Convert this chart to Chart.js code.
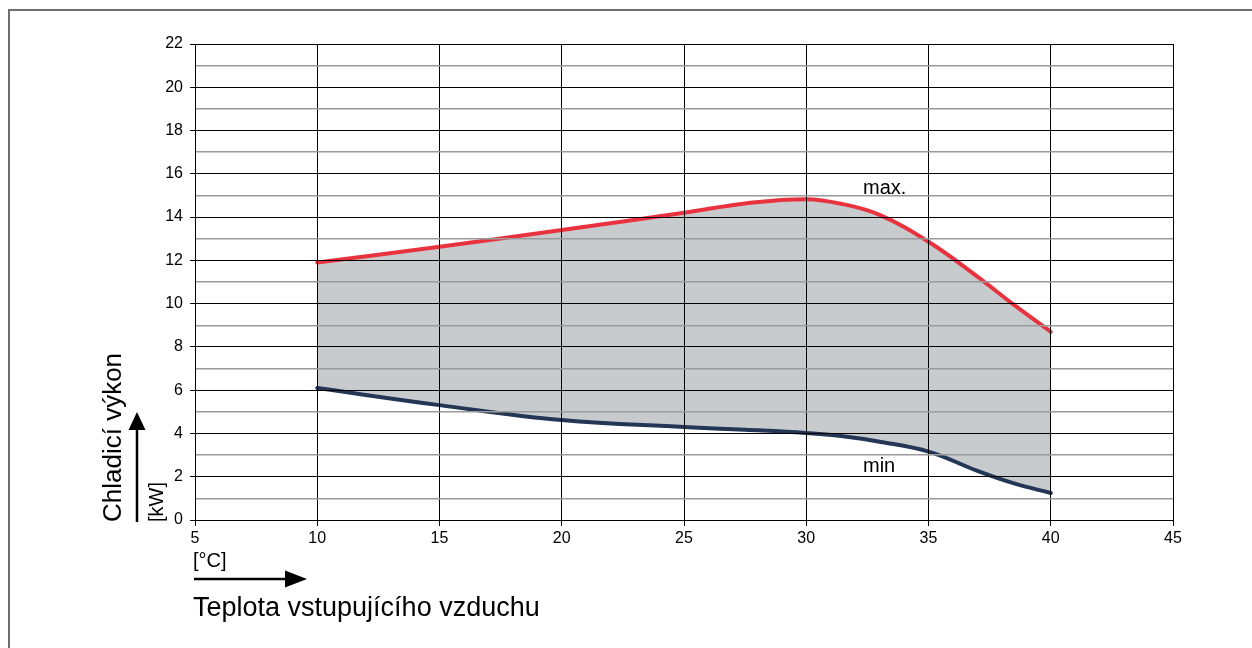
<!DOCTYPE html>
<html lang="cs">
<head>
<meta charset="utf-8">
<title>Chladicí výkon</title>
<script src="https://cdn.jsdelivr.net/npm/chart.js@4.4.1/dist/chart.umd.min.js"></script>
<style>
    html, body { margin: 0; padding: 0; background: #fff; }
    #wrap { width: 1252px; height: 648px; position: relative; }
</style>
</head>
<body>
<div id="wrap"><canvas id="coolingChart" width="1252" height="648"></canvas></div>
<script>
    "use strict";

    // teplota vstupujícího vzduchu [°C]
    const airTemps = [10, 15, 20, 25, 27.5, 30, 31.5, 33, 35, 37, 38.5, 40];
    // chladicí výkon [kW] - horní a dolní mez
    const capacityMax = [11.9, 12.63, 13.4, 14.2, 14.63, 14.83, 14.6, 14.1, 12.86, 11.25, 9.94, 8.7];
    const capacityMin = [6.1, 5.31, 4.62, 4.3, 4.17, 4.02, 3.87, 3.62, 3.16, 2.27, 1.69, 1.25];

    const xTicks = [5, 10, 15, 20, 25, 30, 35, 40, 45];
    const yLabelTicks = [0, 2, 4, 6, 8, 10, 12, 14, 16, 18, 20, 22];

    const yTitle = "Chladicí výkon";
    const yUnit = "[kW]";
    const xTitle = "Teplota vstupujícího vzduchu";
    const xUnit = "[°C]";
    const maxLabel = "max.";
    const minLabel = "min";

    const FONT = "'Liberation Sans', Arial, sans-serif";

    function toPoints(xs, ys) {
        return xs.map((x, i) => ({ x: x, y: ys[i] }));
    }

    /** jednoduchá šipka s plným hrotem */
    function arrow(ctx, x1, y1, x2, y2, head, halfW) {
        const ang = Math.atan2(y2 - y1, x2 - x1);
        const bx = x2 - Math.cos(ang) * head;
        const by = y2 - Math.sin(ang) * head;
        ctx.beginPath();
        ctx.moveTo(x1, y1);
        ctx.lineTo(bx, by);
        ctx.stroke();
        ctx.beginPath();
        ctx.moveTo(x2, y2);
        ctx.lineTo(bx - Math.sin(ang) * halfW, by + Math.cos(ang) * halfW);
        ctx.lineTo(bx + Math.sin(ang) * halfW, by - Math.cos(ang) * halfW);
        ctx.closePath();
        ctx.fill();
    }

    /** rámeček kolem obrázku (vidět jen levá a horní hrana) */
    const framePlugin = {
        id: "framePlugin",
        beforeDraw(chart) {
            const { ctx } = chart;
            ctx.save();
            ctx.strokeStyle = "#6f6f6f";
            ctx.lineWidth = 2;
            ctx.beginPath();
            ctx.moveTo(9, 700);
            ctx.lineTo(9, 10);
            ctx.lineTo(1300, 10);
            ctx.stroke();
            ctx.restore();
        }
    };

    /** popisky os, šipky a popisky křivek */
    const annotationPlugin = {
        id: "annotationPlugin",
        afterDraw(chart) {
            const { ctx, scales } = chart;
            const x = scales.x;
            const y = scales.y;
            const bottom = chart.chartArea.bottom;
            const left = chart.chartArea.left;

            ctx.save();
            ctx.fillStyle = "#000";
            ctx.strokeStyle = "#000";
            ctx.lineWidth = 2.5;
            ctx.textAlign = "left";
            ctx.textBaseline = "alphabetic";

            // svislá osa
            ctx.save();
            ctx.translate(121, bottom + 2);
            ctx.rotate(-Math.PI / 2);
            ctx.font = "26px " + FONT;
            ctx.fillText(yTitle, 0, 0);
            ctx.restore();

            arrow(ctx, 137, bottom + 2, 137, bottom - 108, 18, 8.5);

            ctx.save();
            ctx.translate(163, bottom + 2);
            ctx.rotate(-Math.PI / 2);
            ctx.font = "20px " + FONT;
            ctx.fillText(yUnit, 0, 0);
            ctx.restore();

            // vodorovná osa
            ctx.font = "20px " + FONT;
            ctx.fillText(xUnit, left - 2, bottom + 47);

            arrow(ctx, left - 1, bottom + 59, left + 112, bottom + 59, 22, 8.5);

            ctx.font = "27px " + FONT;
            ctx.fillText(xTitle, left - 2, bottom + 96);

            // popisky křivek
            ctx.font = "20px " + FONT;
            ctx.fillText(maxLabel, x.getPixelForValue(32.32), y.getPixelForValue(15.07));
            ctx.fillText(minLabel, x.getPixelForValue(32.32), y.getPixelForValue(2.23));

            ctx.restore();
        }
    };

    new Chart(document.getElementById("coolingChart").getContext("2d"), {
        type: "line",
        data: {
            datasets: [
                {
                    label: "min",
                    data: toPoints(airTemps, capacityMin),
                    borderColor: "#233656",
                    backgroundColor: "#233656",
                    borderWidth: 4,
                    pointRadius: 0,
                    tension: 0.4,
                    fill: false,
                    borderCapStyle: "round",
                },
                {
                    label: "max.",
                    data: toPoints(airTemps, capacityMax),
                    borderColor: "#e8333f",
                    backgroundColor: "#c8cbce",
                    borderWidth: 4,
                    pointRadius: 0,
                    tension: 0.4,
                    fill: "-1",
                    borderCapStyle: "round",
                },
            ],
        },
        options: {
            responsive: false,
            animation: false,
            devicePixelRatio: 1,
            layout: {
                padding: { left: 155, right: 79, top: 44, bottom: 98 },
            },
            plugins: {
                legend: { display: false },
                tooltip: { enabled: false },
                filler: { drawTime: "beforeDatasetsDraw" },
            },
            scales: {
                x: {
                    type: "linear",
                    min: 5,
                    max: 45,
                    afterFit(scale) { scale.height = 30; },
                    afterBuildTicks(scale) {
                        scale.ticks = xTicks.map((v) => ({ value: v }));
                    },
                    ticks: {
                        color: "#000",
                        font: { family: FONT, size: 16 },
                        padding: 3,
                        maxRotation: 0,
                        autoSkip: false,
                    },
                    grid: {
                        color: "#000",
                        lineWidth: 1,
                        tickLength: 6,
                        tickColor: "#000",
                        z: 1,
                    },
                    border: { color: "#000", width: 1, z: 1 },
                },
                y: {
                    type: "linear",
                    min: 0,
                    max: 22,
                    afterFit(scale) { scale.width = 40; },
                    ticks: {
                        stepSize: 1,
                        color: "#000",
                        font: { family: FONT, size: 16 },
                        padding: 7,
                        autoSkip: false,
                        callback: (v) => (yLabelTicks.includes(v) ? String(v) : ""),
                    },
                    grid: {
                        color: (c) => (yLabelTicks.includes(c.tick.value) ? "#000" : "#9a9a9a"),
                        lineWidth: (c) => (yLabelTicks.includes(c.tick.value) ? 1 : 1.5),
                        tickLength: 5,
                        tickColor: (c) => (yLabelTicks.includes(c.tick.value) ? "#000" : "rgba(0,0,0,0)"),
                        z: 1,
                    },
                    border: { color: "#000", width: 1, z: 1 },
                },
            },
        },
        plugins: [framePlugin, annotationPlugin],
    });
</script>
</body>
</html>
